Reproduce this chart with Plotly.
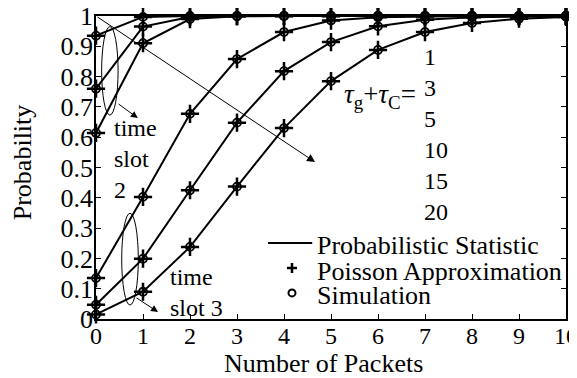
import plotly.graph_objects as go

packets = [0, 1, 2, 3, 4, 5, 6, 7, 8, 9, 10]

# time slot 2 curves
slot2_a = [0.935, 0.997, 1.0, 1.0, 1.0, 1.0, 1.0, 1.0, 1.0, 1.0, 1.0]
slot2_b = [0.76, 0.965, 0.997, 1.0, 1.0, 1.0, 1.0, 1.0, 1.0, 1.0, 1.0]
slot2_c = [0.614, 0.91, 0.99, 0.999, 1.0, 1.0, 1.0, 1.0, 1.0, 1.0, 1.0]
# time slot 3 curves
slot3_a = [0.135, 0.403, 0.677, 0.858, 0.947, 0.985, 0.996, 0.999, 1.0, 1.0, 1.0]
slot3_b = [0.047, 0.199, 0.425, 0.648, 0.818, 0.914, 0.966, 0.988, 0.996, 0.999, 1.0]
slot3_c = [0.015, 0.09, 0.238, 0.437, 0.63, 0.785, 0.888, 0.947, 0.977, 0.991, 0.997]

curves = [slot2_a, slot2_b, slot2_c, slot3_a, slot3_b, slot3_c]
tau_labels = ['1', '3', '5', '10', '15', '20']
legend_names = ['Probabilistic Statistic', 'Poisson Approximation', 'Simulation']
y_ticks = [0, 0.1, 0.2, 0.3, 0.4, 0.5, 0.6, 0.7, 0.8, 0.9, 1]
y_ticktext = ['0', '0.1', '0.2', '0.3', '0.4', '0.5', '0.6', '0.7', '0.8', '0.9', '1']

font_name = 'Times New Roman, Liberation Serif, DejaVu Serif, serif'
txt_font = dict(family=font_name, size=24, color='black')

fig = go.Figure()

for vals in curves:
    fig.add_trace(go.Scatter(x=packets, y=vals, mode='lines', showlegend=False,
                             line=dict(color='black', width=2), cliponaxis=False))
for vals in curves:
    fig.add_trace(go.Scatter(x=packets, y=vals, mode='markers', showlegend=False,
                             marker=dict(symbol='cross-thin-open', size=13, color='black',
                                         line=dict(color='black', width=2.5)),
                             cliponaxis=False))
for vals in curves:
    fig.add_trace(go.Scatter(x=packets, y=vals, mode='markers', showlegend=False,
                             marker=dict(symbol='circle-open', size=8, color='black',
                                         line=dict(color='black', width=1.8)),
                             cliponaxis=False))

# arrow through curves (increasing tau)
fig.add_annotation(x=4.66, y=0.518, ax=0, ay=1, xref='x', yref='y', axref='x', ayref='y',
                   text='', showarrow=True, arrowhead=2, arrowsize=1.6, arrowwidth=1,
                   arrowcolor='black')

# ellipses + small arrows
fig.add_shape(type='circle', xref='x', yref='y', x0=0.12, x1=0.47, y0=0.673, y1=0.965,
              line=dict(color='black', width=1))
fig.add_shape(type='circle', xref='x', yref='y', x0=0.547, x1=0.90, y0=0.046, y1=0.349,
              line=dict(color='black', width=1))
fig.add_annotation(x=0.89, y=0.663, ax=0.45, ay=0.713, xref='x', yref='y', axref='x', ayref='y',
                   text='', showarrow=True, arrowhead=2, arrowsize=1.4, arrowwidth=1,
                   arrowcolor='black')
fig.add_annotation(x=1.32, y=0.023, ax=0.83, ay=0.073, xref='x', yref='y', axref='x', ayref='y',
                   text='', showarrow=True, arrowhead=2, arrowsize=1.4, arrowwidth=1,
                   arrowcolor='black')

fig.add_annotation(x=0.34, y=0.528, xref='x', yref='y', text='time<br>slot<br>2',
                   showarrow=False, xanchor='left', yanchor='middle', align='left', font=txt_font)
fig.add_annotation(x=1.53, y=0.087, xref='x', yref='y', text='time<br>slot 3',
                   showarrow=False, xanchor='left', yanchor='middle', align='left', font=txt_font)

fig.add_annotation(x=6.85, y=0.735, xref='x', yref='y',
                   text='<i>τ</i><sub>g</sub>+<i>τ</i><sub>C</sub>=',
                   showarrow=False, xanchor='right', yanchor='middle',
                   font=dict(family=font_name, size=27, color='black'))
for k, lab in enumerate(tau_labels):
    fig.add_annotation(x=6.94, y=0.865 - k * 0.1025, xref='x', yref='y', text=lab,
                       showarrow=False, xanchor='left', yanchor='middle', font=txt_font)

# legend drawn by hand to keep the tight row spacing
leg_y = [0.251, 0.168, 0.086]
fig.add_shape(type='line', xref='x', yref='y', x0=3.66, x1=4.6, y0=leg_y[0], y1=leg_y[0],
              line=dict(color='black', width=2))
fig.add_shape(type='path', xref='x', yref='y', xsizemode='pixel', ysizemode='pixel',
              xanchor=4.17, yanchor=leg_y[1], path='M-5,0 L5,0 M0,-5 L0,5',
              line=dict(color='black', width=2.5))
fig.add_shape(type='circle', xref='x', yref='y', xsizemode='pixel', ysizemode='pixel',
              xanchor=4.17, yanchor=leg_y[2], x0=-3.5, x1=3.5, y0=-3.5, y1=3.5,
              line=dict(color='black', width=2))
for name, yy in zip(legend_names, leg_y):
    fig.add_annotation(x=4.66, y=yy - 0.01, xref='x', yref='y', text=name, showarrow=False,
                       xanchor='left', yanchor='middle',
                       font=dict(family=font_name, size=26, color='black'))

# axis titles
fig.add_annotation(x=0.484, y=-0.148, xref='paper', yref='paper', text='Number of Packets',
                   showarrow=False, xanchor='center', yanchor='middle',
                   font=dict(family=font_name, size=26, color='black'))
fig.add_annotation(x=-0.157, y=0.518, xref='paper', yref='paper', text='Probability',
                   textangle=-90, showarrow=False, xanchor='center', yanchor='middle',
                   font=dict(family=font_name, size=26, color='black'))

fig.update_xaxes(range=[0, 10], tickvals=packets, ticks='inside', ticklen=5,
                 showline=True, linecolor='black', linewidth=1.5, mirror='ticks',
                 showgrid=False, zeroline=False, tickcolor='black', automargin=False,
                 ticklabelstandoff=-6, ticklabeloverflow='allow',
                 tickfont=dict(family=font_name, size=24, color='black'))
fig.update_yaxes(range=[0, 1], tickvals=y_ticks, ticktext=y_ticktext, ticks='inside', ticklen=5,
                 showline=True, linecolor='black', linewidth=1.5, mirror='ticks',
                 showgrid=False, zeroline=False, tickcolor='black', automargin=False,
                 ticklabelstandoff=-4, ticklabeloverflow='allow',
                 tickfont=dict(family=font_name, size=26, color='black'))

# page body has an 8px margin, so the figure is shifted by that much
fig.update_layout(width=569, height=370, plot_bgcolor='white', paper_bgcolor='white',
                  margin=dict(l=88, r=11, t=8, b=59), showlegend=False)

fig.write_html('out.html')
